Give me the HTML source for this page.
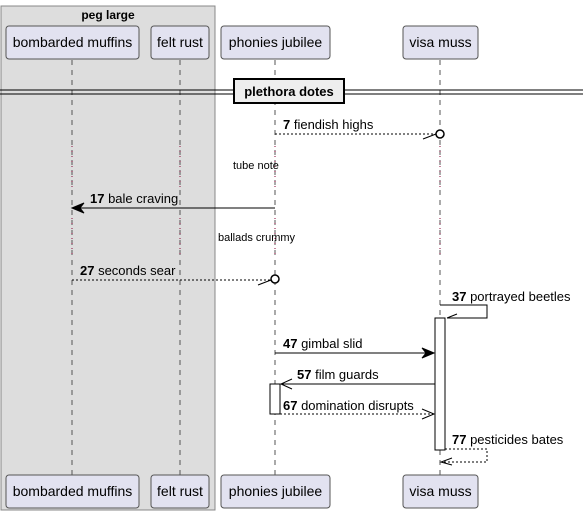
<!DOCTYPE html>
<html><head><meta charset="utf-8"><style>body{margin:0;background:#fff}svg{display:block}text{font-family:"Liberation Sans",sans-serif;font-size:13px;fill:#000}</style></head><body>
<svg width="583" height="516" viewBox="0 0 583 516">
<rect x="1" y="6" width="214" height="504" fill="#ddd" stroke="#888" stroke-width="1"/>
<text x="108" y="19" text-anchor="middle" font-weight="bold" style="font-size:12px">peg large</text>
<g stroke="#555" stroke-dasharray="5,5" stroke-width="1">
<line x1="72" y1="60" x2="72" y2="475"/><line x1="180" y1="60" x2="180" y2="475"/>
<line x1="275" y1="60" x2="275" y2="475"/><line x1="440" y1="60" x2="440" y2="475"/>
</g>
<g stroke="#8b0a3a" stroke-dasharray="1,4" stroke-width="1">
<line x1="72" y1="146" x2="72" y2="190"/><line x1="180" y1="146" x2="180" y2="190"/><line x1="275" y1="146" x2="275" y2="190"/><line x1="440" y1="146" x2="440" y2="190"/>
<line x1="72" y1="218" x2="72" y2="258"/><line x1="180" y1="218" x2="180" y2="258"/><line x1="275" y1="218" x2="275" y2="258"/><line x1="440" y1="218" x2="440" y2="258"/>
</g>
<g fill="#e2e2f0" stroke="#555">
<rect x="6" y="26" width="133" height="33" rx="3"/><rect x="151" y="26" width="58" height="33" rx="3"/><rect x="221" y="26" width="109" height="33" rx="3"/><rect x="403" y="26" width="75" height="33" rx="3"/>
<rect x="6" y="475" width="133" height="33" rx="3"/><rect x="151" y="475" width="58" height="33" rx="3"/><rect x="221" y="475" width="109" height="33" rx="3"/><rect x="403" y="475" width="75" height="33" rx="3"/>
</g>
<g>
<text x="72.5" y="47" text-anchor="middle" style="font-size:14px">bombarded muffins</text><text x="180" y="47" text-anchor="middle" style="font-size:14px">felt rust</text><text x="275.5" y="47" text-anchor="middle" style="font-size:14px">phonies jubilee</text><text x="440.5" y="47" text-anchor="middle" style="font-size:14px">visa muss</text>
<text x="72.5" y="496" text-anchor="middle" style="font-size:14px">bombarded muffins</text><text x="180" y="496" text-anchor="middle" style="font-size:14px">felt rust</text><text x="275.5" y="496" text-anchor="middle" style="font-size:14px">phonies jubilee</text><text x="440.5" y="496" text-anchor="middle" style="font-size:14px">visa muss</text>
</g>
<line x1="0" y1="90" x2="583" y2="90" stroke="#000"/><line x1="0" y1="94" x2="583" y2="94" stroke="#000"/>
<rect x="234" y="79" width="110" height="24" fill="#eee" stroke="#000" stroke-width="2"/>
<text x="289" y="96" text-anchor="middle" font-weight="bold">plethora dotes</text>
<line x1="275" y1="134" x2="436" y2="134" stroke="#000" stroke-dasharray="2,2"/>
<line x1="423" y1="139" x2="436" y2="134" stroke="#000"/>
<circle cx="440" cy="134" r="4" fill="#fff" stroke="#000" stroke-width="1.5"/>
<text x="283" y="129"><tspan font-weight="bold">7</tspan> fiendish highs</text>
<text x="233" y="169" style="font-size:11px">tube note</text>
<line x1="76" y1="208" x2="275" y2="208" stroke="#000"/>
<polygon points="72,208 84,203 80,208 84,213" fill="#000" stroke="#000"/>
<text x="90" y="203"><tspan font-weight="bold">17</tspan> bale craving</text>
<text x="218" y="241" style="font-size:11px">ballads crummy</text>
<line x1="72" y1="280" x2="271" y2="280" stroke="#000" stroke-dasharray="2,2"/>
<line x1="258" y1="285" x2="271" y2="280" stroke="#000"/>
<circle cx="275" cy="279" r="4" fill="#fff" stroke="#000" stroke-width="1.5"/>
<text x="80" y="275"><tspan font-weight="bold">27</tspan> seconds sear</text>
<polyline points="440,305 487,305 487,318 447,318" fill="none" stroke="#000"/>
<line x1="447" y1="318" x2="457" y2="314" stroke="#000"/>
<text x="452" y="301"><tspan font-weight="bold">37</tspan> portrayed beetles</text>
<rect x="435" y="318" width="10" height="132" fill="#fff" stroke="#000"/>
<line x1="275" y1="353" x2="433" y2="353" stroke="#000"/>
<polygon points="434,353 422,348 426,353 422,358" fill="#000" stroke="#000"/>
<text x="283" y="348"><tspan font-weight="bold">47</tspan> gimbal slid</text>
<line x1="281" y1="384" x2="435" y2="384" stroke="#000"/>
<polyline points="292,379 281,384 292,389" fill="none" stroke="#000"/>
<text x="297" y="379"><tspan font-weight="bold">57</tspan> film guards</text>
<rect x="270" y="384" width="10" height="30" fill="#fff" stroke="#000"/>
<line x1="280" y1="414" x2="434" y2="414" stroke="#000" stroke-dasharray="2,2"/>
<polyline points="422,409 434,414 422,419" fill="none" stroke="#000"/>
<text x="283" y="410"><tspan font-weight="bold">67</tspan> domination disrupts</text>
<polyline points="445,449 487,449 487,462 441,462" fill="none" stroke="#000" stroke-dasharray="2,2"/>
<polyline points="452,458 441,462 452,465" fill="none" stroke="#000"/>
<text x="452" y="444"><tspan font-weight="bold">77</tspan> pesticides bates</text>
</svg>
</body></html>
